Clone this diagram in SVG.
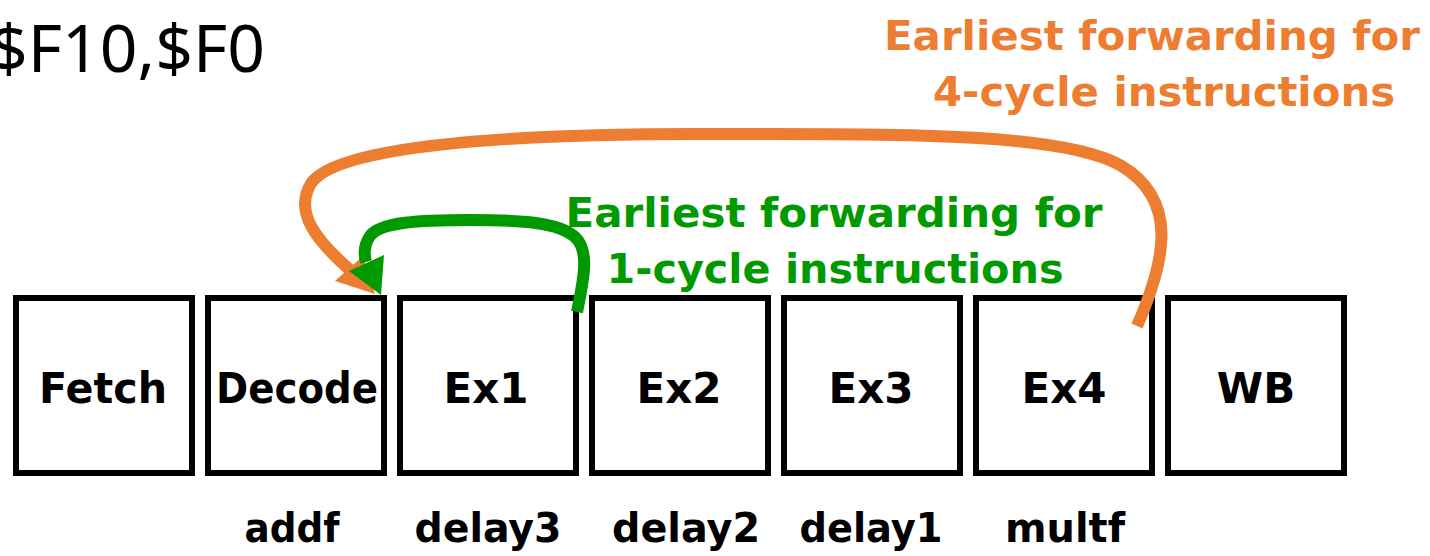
<svg xmlns="http://www.w3.org/2000/svg" width="1430" height="556" viewBox="0 0 1430 556">
<style>
.box{fill:#fff;stroke:#000;stroke-width:6}
.lbl{font-family:"DejaVu Sans",sans-serif;font-weight:bold;font-size:42px;fill:#000;text-anchor:middle}
.ins{font-family:"DejaVu Sans",sans-serif;font-weight:bold;font-size:40px;fill:#000;text-anchor:middle}
.note{font-family:"DejaVu Sans",sans-serif;font-weight:bold;font-size:40px;text-anchor:middle}
.title{font-family:"Noto Sans",sans-serif;font-size:66px;fill:#000;text-anchor:end}
</style>
<rect width="1430" height="556" fill="#fff"/>
<text class="title" x="265" y="72">$F10,$F0</text>
<g id="fetch"><rect class="box" x="16" y="298" width="176" height="175"/><text class="lbl" x="103" y="403" textLength="128" lengthAdjust="spacingAndGlyphs">Fetch</text></g>
<g id="decode"><rect class="box" x="208" y="298" width="176" height="175"/><text class="lbl" x="297" y="403" textLength="162" lengthAdjust="spacingAndGlyphs">Decode</text></g>
<g id="ex1"><rect class="box" x="400" y="298" width="176" height="175"/><text class="lbl" x="486" y="403">Ex1</text></g>
<g id="ex2"><rect class="box" x="592" y="298" width="176" height="175"/><text class="lbl" x="679" y="403">Ex2</text></g>
<g id="ex3"><rect class="box" x="784" y="298" width="176" height="175"/><text class="lbl" x="871" y="403">Ex3</text></g>
<g id="ex4"><rect class="box" x="976" y="298" width="176" height="175"/><text class="lbl" x="1064" y="403">Ex4</text></g>
<g id="wb"><rect class="box" x="1168" y="298" width="176" height="175"/><text class="lbl" x="1256" y="403">WB</text></g>
<g id="instructions">
<text class="ins" x="292" y="542" textLength="95" lengthAdjust="spacingAndGlyphs">addf</text>
<text class="ins" x="488" y="542" textLength="147" lengthAdjust="spacingAndGlyphs">delay3</text>
<text class="ins" x="686" y="542" textLength="148" lengthAdjust="spacingAndGlyphs">delay2</text>
<text class="ins" x="871" y="542" textLength="143" lengthAdjust="spacingAndGlyphs">delay1</text>
<text class="ins" x="1065" y="542" textLength="120" lengthAdjust="spacingAndGlyphs">multf</text>
</g>
<g id="labels">
<text class="note" fill="#ED7D31" x="1152" y="50" textLength="536" lengthAdjust="spacingAndGlyphs">Earliest forwarding for</text>
<text class="note" fill="#ED7D31" x="1164" y="106" textLength="462" lengthAdjust="spacingAndGlyphs">4-cycle instructions</text>
<text class="note" fill="#009A00" x="834" y="227" textLength="537" lengthAdjust="spacingAndGlyphs">Earliest forwarding for</text>
<text class="note" fill="#009A00" x="835" y="283" textLength="457" lengthAdjust="spacingAndGlyphs">1-cycle instructions</text>
</g>
<g id="connectors" fill="none" stroke-width="12">
<path stroke="#ED7D31" d="M 1137 326 C 1165 262, 1180 200, 1120 165 C 1060 132, 900 134, 700 134 C 500 134, 340 146, 312 182 C 292 212, 318 242, 350 270"/>
<polygon fill="#ED7D31" stroke="none" points="375,294 335,281 363,256"/>
<path stroke="#009A00" d="M 577 312 C 583 282, 590 252, 576 238 C 560 222, 520 220, 470 220 C 420 220, 380 222, 370 236 C 364 245, 364 255, 366 262"/>
<polygon fill="#009A00" stroke="none" points="349,271 384,255 381,295"/>
</g>
</svg>
